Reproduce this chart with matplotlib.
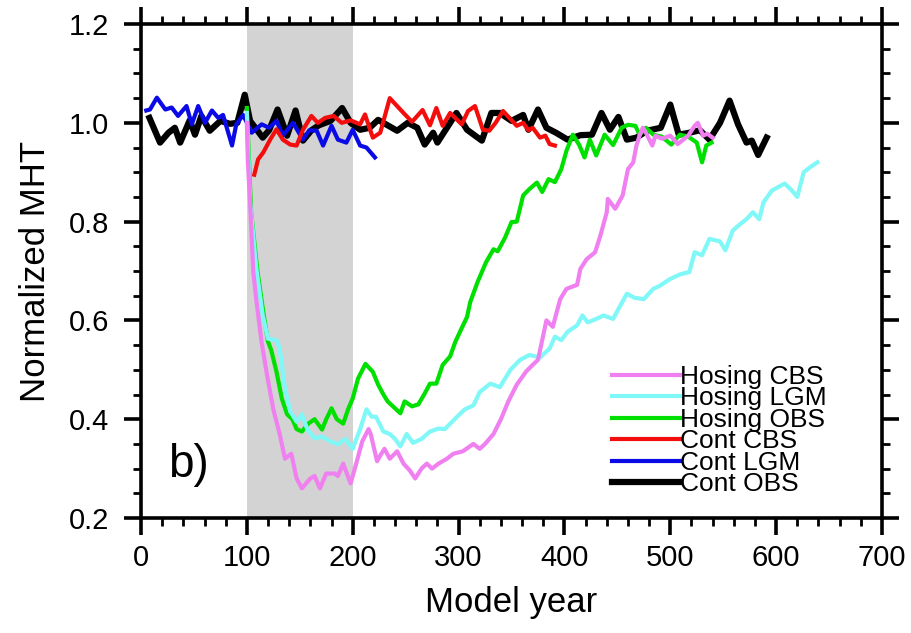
import matplotlib
matplotlib.use("Agg")
import matplotlib.pyplot as plt
from matplotlib.ticker import MultipleLocator, FormatStrFormatter

plt.rcParams['font.family'] = ['Liberation Sans', 'DejaVu Sans']

# Hosing CBS (violet)
hcbs_x = [100, 101, 103, 106, 109, 114, 119, 125, 131, 136,
          142, 147, 152, 160, 164, 169, 175, 183, 186, 191,
          198, 202, 209, 215, 217, 223, 227, 230, 235, 242,
          248, 254, 259, 265, 270, 275, 281, 289, 295, 304,
          314, 320, 325, 333, 340, 347, 355, 364, 370, 375,
          380, 383, 389, 396, 402, 412, 415, 421, 429, 434,
          440, 441, 448, 455, 460, 465, 468, 471, 474, 477,
          483, 486, 492, 500, 507, 517, 523, 526, 531, 535, 540]
hcbs_y = [1.00, 0.92, 0.84, 0.70, 0.64, 0.555, 0.49, 0.42, 0.37, 0.32,
          0.33, 0.28, 0.26, 0.28, 0.285, 0.26, 0.29, 0.29, 0.285, 0.31,
          0.27, 0.30, 0.355, 0.38, 0.37, 0.315, 0.33, 0.34, 0.32, 0.335,
          0.31, 0.296, 0.28, 0.30, 0.31, 0.30, 0.31, 0.32, 0.33, 0.335,
          0.35, 0.34, 0.35, 0.37, 0.40, 0.436, 0.47, 0.497, 0.51, 0.52,
          0.57, 0.60, 0.587, 0.643, 0.664, 0.672, 0.704, 0.724, 0.738, 0.772,
          0.819, 0.846, 0.826, 0.853, 0.906, 0.92, 0.954, 0.974, 0.99, 0.98,
          0.954, 0.974, 0.968, 0.974, 0.957, 0.974, 0.994, 1.0, 0.974, 0.978, 0.97]

# Hosing LGM (light cyan)
hlgm_x = [100, 103, 109, 115, 120, 128, 131, 136, 141, 147,
          152, 157, 164, 171, 179, 186, 193, 200, 207, 213,
          218, 222, 229, 235, 240, 245, 251, 257, 265, 273,
          281, 287, 294, 301, 306, 314, 320, 330, 339, 349,
          358, 367, 377, 386, 391, 397, 403, 412, 417, 422,
          430, 437, 446, 451, 459, 466, 475, 484, 490, 500,
          509, 518, 523, 530, 537, 547, 552, 559, 566, 572,
          578, 584, 588, 596, 602, 608, 614, 620, 626, 632, 639]
hlgm_y = [1.02, 0.84, 0.704, 0.61, 0.563, 0.56, 0.543, 0.462, 0.416, 0.395,
          0.41, 0.38, 0.361, 0.365, 0.355, 0.349, 0.36, 0.34, 0.38, 0.42,
          0.405, 0.405, 0.375, 0.37, 0.36, 0.345, 0.37, 0.352, 0.36, 0.375,
          0.381, 0.38, 0.395, 0.41, 0.42, 0.428, 0.455, 0.472, 0.465, 0.50,
          0.52, 0.53, 0.525, 0.543, 0.567, 0.56, 0.577, 0.59, 0.61, 0.596,
          0.603, 0.61, 0.603, 0.623, 0.654, 0.646, 0.643, 0.664, 0.67, 0.684,
          0.693, 0.698, 0.738, 0.732, 0.765, 0.76, 0.742, 0.782, 0.795, 0.805,
          0.819, 0.805, 0.839, 0.863, 0.87, 0.877, 0.865, 0.85, 0.90, 0.91, 0.92]

# Hosing OBS (green)
hobs_x = [100, 101, 104, 110, 116, 120, 123, 128, 133, 138,
          143, 147, 152, 158, 164, 171, 175, 180, 185, 191,
          196, 200, 205, 212, 219, 224, 229, 233, 238, 245,
          249, 256, 262, 268, 273, 279, 285, 292, 297, 302,
          308, 311, 318, 326, 333, 337, 344, 350, 355, 361,
          367, 374, 379, 385, 391, 397, 402, 408, 414, 419,
          424, 430, 438, 446, 454, 460, 467, 471, 477, 484,
          492, 501, 509, 517, 525, 530, 534, 539]
hobs_y = [1.03, 0.98, 0.82, 0.70, 0.61, 0.557, 0.54, 0.496, 0.442, 0.41,
          0.40, 0.38, 0.375, 0.391, 0.40, 0.379, 0.40, 0.422, 0.40, 0.391,
          0.422, 0.442, 0.482, 0.512, 0.496, 0.47, 0.45, 0.436, 0.426, 0.412,
          0.436, 0.426, 0.43, 0.452, 0.472, 0.472, 0.51, 0.527, 0.557, 0.58,
          0.607, 0.637, 0.678, 0.718, 0.744, 0.74, 0.768, 0.799, 0.80, 0.853,
          0.866, 0.879, 0.86, 0.886, 0.88, 0.906, 0.944, 0.976, 0.955, 0.93,
          0.966, 0.934, 0.976, 0.955, 0.99, 0.996, 0.994, 0.976, 0.99, 0.976,
          0.972, 0.956, 0.976, 0.972, 0.96, 0.92, 0.954, 0.96]

# Cont CBS (red)
ccbs_x = [107, 110.6, 115.5, 122, 128, 134, 141, 147, 153, 161,
          167, 174, 182, 189.6, 198, 207, 211.6, 219, 226, 235,
          241.5, 248, 256, 266, 273, 279, 285, 292, 303, 309,
          315.5, 323, 329, 335, 342, 348, 355, 361, 366, 370,
          377, 382, 386, 391]
ccbs_y = [0.895, 0.926, 0.94, 0.966, 0.987, 0.966, 0.956, 0.954, 0.986, 1.014,
          1.0, 1.01, 1.014, 1.0, 1.005, 0.997, 1.017, 0.97, 0.98, 1.05,
          1.035, 1.02, 1.002, 1.026, 0.995, 1.03, 0.994, 1.02, 0.997, 1.024,
          1.034, 0.986, 0.984, 1.0, 1.024, 1.01, 0.994, 1.0, 0.985, 0.99,
          0.97, 0.974, 0.957, 0.954]

# Cont LGM (blue)
clgm_x = [5, 8.5, 15, 23, 29, 35, 43, 48, 54, 60.5,
          67, 73, 77.5, 86, 90, 96.5, 104.5, 114, 121, 128,
          134, 143.6, 153, 159, 166, 172, 180, 186, 194, 200,
          207, 213, 221]
clgm_y = [1.025, 1.027, 1.051, 1.027, 1.031, 1.014, 1.034, 0.997, 1.034, 1.0,
          1.025, 1.01, 1.016, 0.954, 0.997, 1.016, 0.98, 0.997, 0.99, 1.004,
          0.974, 1.0, 0.966, 0.985, 0.984, 0.954, 0.994, 0.966, 0.96, 0.986,
          0.954, 0.95, 0.93]

# Cont OBS (black)
cobs_x = [8, 18, 26, 32, 37, 46, 51, 57, 65, 75,
          84, 91, 98, 103, 108, 115, 121, 129, 138, 146,
          153, 161, 168, 179, 190, 198, 207, 216, 224, 233,
          242, 252, 261, 268, 276, 280, 289, 298, 308, 322,
          331, 339, 350, 361, 366, 375, 383, 392, 403, 415,
          426, 435, 443, 451, 459, 468, 478, 491, 500, 508,
          518, 528, 537, 547, 556, 564, 572, 577, 583, 591]
cobs_y = [1.01, 0.96, 0.98, 0.99, 0.96, 1.005, 0.976, 1.014, 0.984, 1.004,
          0.998, 1.0, 1.057, 1.004, 0.99, 0.97, 0.985, 1.027, 0.974, 1.025,
          0.964, 0.985, 0.995, 1.004, 1.03, 1.0, 0.986, 0.99, 1.006, 0.995,
          0.984, 1.0, 0.99, 0.956, 0.98, 0.96, 0.99, 1.02, 0.986, 0.964,
          1.02, 1.02, 1.004, 1.016, 0.986, 1.027, 0.99, 0.98, 0.966, 0.975,
          0.976, 1.02, 0.986, 1.012, 0.966, 0.97, 0.984, 0.99, 1.037, 0.976,
          0.98, 0.985, 0.966, 1.0, 1.045, 0.997, 0.96, 0.964, 0.935, 0.97]

hosing_start, hosing_end = 100, 200

fig = plt.figure(figsize=(9.12, 6.33), dpi=100)
ax = fig.add_axes([0.1546, 0.1817, 0.8125, 0.7803])

ax.axvspan(hosing_start, hosing_end, color='#d3d3d3', lw=0, zorder=0)

# drawing order: controls first, hosing on top
l_cobs, = ax.plot(cobs_x, cobs_y, color='black', lw=4.5, label='Cont OBS')
l_clgm, = ax.plot(clgm_x, clgm_y, color='#0a0ae6', lw=3, label='Cont LGM')
l_ccbs, = ax.plot(ccbs_x, ccbs_y, color='#f40d0d', lw=3, label='Cont CBS')
l_hobs, = ax.plot(hobs_x, hobs_y, color='#00e000', lw=3, label='Hosing OBS')
l_hlgm, = ax.plot(hlgm_x, hlgm_y, color='#80f8f8', lw=3, label='Hosing LGM')
l_hcbs, = ax.plot(hcbs_x, hcbs_y, color='#f080f0', lw=3, label='Hosing CBS')

ax.set_xlim(0, 700)
ax.set_ylim(0.2, 1.2)
ax.xaxis.set_major_locator(MultipleLocator(100))
ax.xaxis.set_minor_locator(MultipleLocator(20))
ax.yaxis.set_major_locator(MultipleLocator(0.2))
ax.yaxis.set_minor_locator(MultipleLocator(0.05))
ax.yaxis.set_major_formatter(FormatStrFormatter('%.1f'))

for s in ax.spines.values():
    s.set_linewidth(2.6)
ax.tick_params(which='both', direction='out', top=True, right=True, width=2.6)
ax.tick_params(which='major', length=12, labelsize=21)
ax.tick_params(which='minor', length=6, width=2)
ax.tick_params(axis='x', pad=7)
ax.tick_params(axis='y', pad=11)

ax.set_xlabel('Model year', fontsize=25, labelpad=10)
ax.set_ylabel('Normalized MHT', fontsize=25, labelpad=12)

ax.text(0.036, 0.083, 'b)', transform=ax.transAxes, fontsize=33)

ax.legend(handles=[l_hcbs, l_hlgm, l_hobs, l_ccbs, l_clgm, l_cobs],
          loc='upper left', bbox_to_anchor=(0.636, 0.31), frameon=False,
          fontsize=19, handlelength=2.55, handletextpad=0.0,
          labelspacing=-0.095, borderpad=0, borderaxespad=0)

fig.savefig('out.png', dpi=100)
